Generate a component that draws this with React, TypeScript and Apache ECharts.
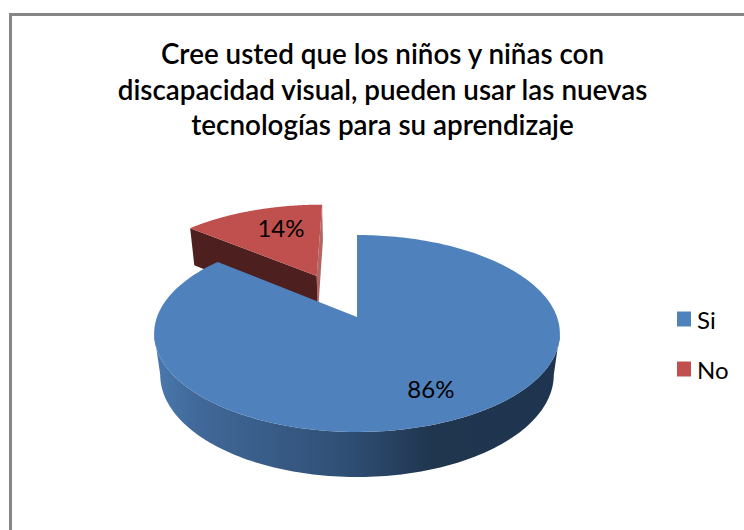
import React, { useEffect, useRef } from "react";
import * as echarts from "echarts";

const categories = ["Si", "No"];
const values = [86, 14];
const colors = ["#4F81BD", "#C0504D"];
const explode = [0, 0.51];
const titleLines = [
  "Cree usted que los niños y niñas con",
  "discapacidad visual, pueden usar las nuevas",
  "tecnologías para su aprendizaje",
];

const FONT = "Lato, 'Open Sans', sans-serif";
const CX = 357;
const CY = 317;
const K = 0.1675;
const A = 95.7;
const B = 200;
const DEPTH = 42.3;
const M = 0.03;

const total = values.reduce((a, b) => a + b, 0);

// Perspective projection of a point of the unit disc; z = 0 is the top face, z = 1 the base.
function project(X: number, Y: number, z: number): number[] {
  const w = 1 + K * Y + M * z;
  return [CX + (B * X) / w, CY + (-A * Y + DEPTH * z) / w];
}

function sliceGeometry(i: number, value: number) {
  const before = values.slice(0, i).reduce((a, b) => a + b, 0);
  const a0 = (before / total) * Math.PI * 2;
  const a1 = a0 + (value / total) * Math.PI * 2;
  const mid = (a0 + a1) / 2;
  const ox = explode[i] * Math.sin(mid);
  const oy = explode[i] * Math.cos(mid);
  const at = (ang: number, r: number, z: number) =>
    project(ox + r * Math.sin(ang), oy + r * Math.cos(ang), z);
  const rim = (z: number) => {
    const pts: number[][] = [];
    const n = 240;
    for (let s = 0; s <= n; s++) pts.push(at(a0 + ((a1 - a0) * s) / n, 1, z));
    return pts;
  };
  return { a0, a1, mid, at, rim };
}

function extremeIndex(pts: number[][], sign: number) {
  let best = 0;
  pts.forEach((p, i) => {
    if (sign * p[0] > sign * pts[best][0]) best = i;
  });
  return best;
}

function renderSi(_params: any, api: any) {
  const g = sliceGeometry(0, api.value(0));
  const top = g.rim(0);
  const base = g.rim(1);
  const apex = g.at(0, 0, 0);
  const rimStart = top[0];
  const label = g.at(g.mid, 0.73, 0);
  const frontTop = top.slice(extremeIndex(top, 1), extremeIndex(top, -1) + 1);
  const frontBase = base.slice(extremeIndex(base, 1), extremeIndex(base, -1) + 1);
  return {
    type: "group",
    children: [
      {
        type: "polygon",
        shape: { points: [...frontTop, ...frontBase.slice().reverse()] },
        style: {
          fill: {
            type: "linear",
            x: 0,
            y: 0,
            x2: 1,
            y2: 0,
            colorStops: [
              { offset: 0, color: "#4A79AF" },
              { offset: 0.1, color: "#41699A" },
              { offset: 0.48, color: "#2F4E74" },
              { offset: 0.68, color: "#20364F" },
              { offset: 1, color: "#1F344F" },
            ],
          },
        },
      },
      {
        type: "polygon",
        shape: { points: [apex, ...top] },
        style: { fill: colors[0] },
      },
      {
        type: "line",
        shape: { x1: rimStart[0] - 1, y1: rimStart[1] + 1, x2: apex[0] - 1, y2: apex[1] },
        style: {
          lineWidth: 1.5,
          stroke: {
            type: "linear",
            x: 0,
            y: 0,
            x2: 0,
            y2: 1,
            colorStops: [
              { offset: 0, color: "#4F81BD" },
              { offset: 0.5, color: "#3A5F8A" },
              { offset: 1, color: "#2A4565" },
            ],
          },
        },
      },
      {
        type: "text",
        style: {
          text: Math.round((api.value(0) / total) * 100) + "%",
          x: label[0] + 4,
          y: label[1],
          align: "center",
          verticalAlign: "middle",
          font: "24px " + FONT,
          fill: "#000",
        },
      },
    ],
  };
}

function renderNo(_params: any, api: any) {
  const g = sliceGeometry(1, api.value(0));
  const top = g.rim(0);
  const apexT = g.at(0, 0, 0);
  const apexB = g.at(0, 0, 1);
  const leftT = top[0];
  const rightT = top[top.length - 1];
  const leftB = g.at(g.a0, 1, 1);
  const rightB = g.at(g.a1, 1, 1);
  const label = g.at(g.mid, 0.65, 0);
  return {
    type: "group",
    children: [
      {
        type: "polygon",
        shape: { points: [rightT, apexT, apexB, rightB] },
        style: { fill: "#B06663" },
      },
      {
        type: "polygon",
        shape: { points: [leftT, apexT, apexB, leftB] },
        style: { fill: "#4D1F1E" },
      },
      {
        type: "polygon",
        shape: { points: [apexT, ...top] },
        style: { fill: colors[1] },
      },
      {
        type: "text",
        style: {
          text: Math.round((api.value(0) / total) * 100) + "%",
          x: label[0] + 8,
          y: label[1] - 4,
          align: "center",
          verticalAlign: "middle",
          font: "24px " + FONT,
          fill: "#000",
        },
      },
    ],
  };
}

const renderers = [renderSi, renderNo];

export default function App() {
  const ref = useRef<HTMLDivElement>(null);
  useEffect(() => {
    const chart = echarts.init(ref.current!, null, { renderer: "svg" });
    chart.setOption({
      animation: false,
      backgroundColor: "#fff",
      title: {
        text: titleLines.join("\n"),
        left: 382.5,
        top: 36,
        padding: 0,
        textAlign: "center",
        textStyle: {
          fontFamily: FONT,
          fontSize: 27.8,
          fontWeight: 600,
          color: "#000",
          lineHeight: 35.5,
        },
      },
      legend: {
        orient: "vertical",
        left: 677,
        top: 307,
        padding: 0,
        itemWidth: 14,
        itemHeight: 15,
        itemGap: 26,
        icon: "rect",
        data: categories,
        selectedMode: false,
        textStyle: { fontFamily: FONT, fontSize: 24, lineHeight: 22, color: "#000", padding: [0, 0, 0, 1] },
      },
      tooltip: { show: false },
      graphic: [
        { type: "line", shape: { x1: 10.5, y1: 14.5, x2: 744, y2: 14.5 }, style: { stroke: "#868686", lineWidth: 3 } },
        { type: "line", shape: { x1: 10.5, y1: 13, x2: 10.5, y2: 530 }, style: { stroke: "#868686", lineWidth: 3 } },
      ],
      series: categories.map((name, i) => ({
        type: "custom",
        name,
        coordinateSystem: "none",
        silent: true,
        z: i === 0 ? 3 : 2,
        itemStyle: { color: colors[i] },
        renderItem: renderers[i],
        data: [values[i]],
      })),
    });
    return () => chart.dispose();
  }, []);
  return (
    <div
      ref={ref}
      style={{ position: "absolute", left: 0, top: 0, width: 744, height: 530 }}
    />
  );
}
